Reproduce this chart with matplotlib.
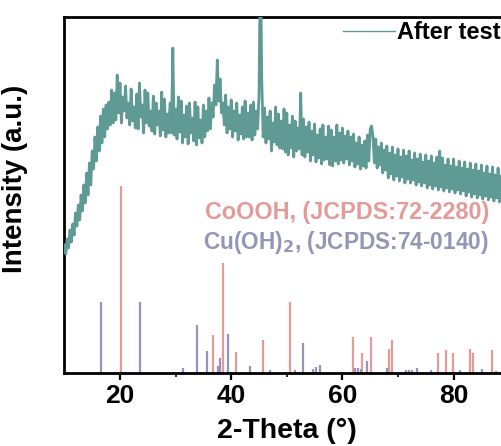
import numpy as np
import matplotlib
matplotlib.use("Agg")
import matplotlib.pyplot as plt

# ---------------- data ----------------
theta_start, theta_step = 10.0, 0.25
intensity = [
    128, 119, 134, 125,   # 10
    143, 131, 149, 138,   # 11
    160, 147, 168, 153,   # 12
    178, 162, 188, 170,   # 13
    200, 178, 210, 188,   # 14
    222, 204, 236, 212,   # 15
    246, 222, 257, 230,   # 16
    264, 236, 268, 244,   # 17
    271, 248, 283, 250,   # 18
    280, 253, 298, 260,   # 19
    290, 250, 276, 262,   # 20
    287, 255, 270, 248,   # 21
    284, 252, 266, 245,   # 22
    279, 244, 290, 256,   # 23
    268, 240, 283, 250,   # 24
    280, 247, 262, 242,   # 25
    277, 239, 270, 248,   # 26
    262, 237, 281, 243,   # 27
    274, 236, 259, 240,   # 28
    270, 240, 325, 238,   # 29
    264, 234, 276, 241,   # 30
    272, 230, 258, 236,   # 31
    267, 229, 270, 240,   # 32
    255, 232, 271, 228,   # 33
    266, 235, 253, 230,   # 34
    268, 236, 262, 242,   # 35
    275, 244, 270, 256,   # 36
    288, 268, 313, 272,   # 37
    294, 260, 270, 248,   # 38
    278, 240, 266, 244,   # 39
    273, 236, 262, 242,   # 40
    270, 233, 258, 239,   # 41
    266, 234, 272, 236,   # 42
    260, 236, 268, 233,   # 43
    271, 238, 262, 244,   # 44
    277, 420, 292, 236,   # 45
    265, 230, 256, 234,   # 46
    262, 222, 250, 231,   # 47
    266, 228, 259, 225,   # 48
    252, 224, 264, 221,   # 49
    260, 218, 248, 225,   # 50
    257, 216, 252, 222,   # 51
    245, 224, 280, 218,   # 52
    254, 216, 246, 221,   # 53
    251, 212, 242, 218,   # 54
    249, 211, 238, 215,   # 55
    244, 209, 248, 213,   # 56
    236, 214, 247, 208,   # 57
    243, 207, 236, 212,   # 58
    248, 209, 240, 213,   # 59
    245, 210, 237, 214,   # 60
    242, 208, 236, 212,   # 61
    239, 206, 230, 209,   # 62
    236, 204, 228, 207,   # 63
    232, 205, 238, 212,   # 64
    244, 247, 236, 210,   # 65
    234, 205, 226, 208,   # 66
    230, 200, 223, 203,   # 67
    227, 195, 220, 199,   # 68
    226, 193, 218, 197,   # 69
    224, 192, 216, 196,   # 70
    223, 190, 217, 194,   # 71
    222, 190, 213, 193,   # 72
    220, 188, 214, 191,   # 73
    219, 187, 211, 190,   # 74
    218, 185, 212, 188,   # 75
    217, 184, 210, 187,   # 76
    216, 183, 222, 186,   # 77
    215, 182, 208, 185,   # 78
    214, 181, 207, 184,   # 79
    214, 180, 206, 183,   # 80
    212, 179, 205, 182,   # 81
    211, 177, 204, 181,   # 82
    210, 176, 203, 179,   # 83
    209, 175, 202, 178,   # 84
    208, 174, 200, 177,   # 85
    207, 173, 199, 176,   # 86
    206, 172, 198, 175,   # 87
    205, 171, 197, 174,   # 88
    204, 170, 196, 173,   # 89
    200,                  # 90
]
two_theta = np.arange(len(intensity)) * theta_step + theta_start

cooh_pos = [20.1, 36.8, 38.6, 40.9, 45.8, 50.5, 61.9, 63.6, 65.1, 68.3,
            69.0, 77.2, 78.6, 79.9, 82.9, 83.4, 86.9]
cooh_int = [187, 38, 110, 21, 33, 71, 36, 20, 36, 24,
            33, 20, 23, 20, 24, 20, 23]

cuoh_pos = [16.6, 23.6, 31.3, 33.9, 35.7, 37.7, 38.0, 39.5, 43.3, 46.9,
            51.5, 53.0, 54.8, 55.2, 56.0, 62.3, 62.8, 63.4, 64.4, 68.0,
            71.4, 72.0, 72.6, 73.4, 76.0, 81.2, 85.1, 87.6]
cuoh_int = [71, 71, 5, 48, 22, 7, 15, 39, 7, 3,
            3, 30, 4, 6, 8, 5, 5, 4, 12, 5,
            3, 3, 3, 5, 3, 3, 4, 2]

x_ticks = [20, 40, 60, 80]
x_minor = [30, 50, 70]
x_range = (10, 90)
y_range = (0, 356)

# ---------------- style ----------------
plt.rcParams['font.family'] = ['Liberation Sans', 'DejaVu Sans']
plt.rcParams['font.weight'] = 'bold'
line_color = '#5f9a95'
red = '#e59a9a'
purple = '#9595b8'

fig = plt.figure(figsize=(5.02, 4.46), dpi=100)
ax = fig.add_axes([64.4 / 502, 1 - 373 / 446, (509.2 - 64.4) / 502, (373 - 17) / 446])

ax.plot(two_theta, intensity, color=line_color, lw=2.0, label='After test', zorder=3)
ax.vlines(cooh_pos, 0, cooh_int, colors=red, lw=1.6, zorder=2)
ax.vlines(cuoh_pos, 0, cuoh_int, colors=purple, lw=1.6, zorder=2)

ax.set_xlim(*x_range)
ax.set_ylim(*y_range)
ax.set_xticks(x_ticks)
ax.set_xticks(x_minor, minor=True)
ax.set_yticks([])
ax.tick_params(axis='x', which='major', direction='out', length=5, width=1.6,
               labelsize=19, pad=3)
ax.tick_params(axis='x', which='minor', direction='out', length=3, width=1.2)
for lab in ax.get_xticklabels():
    lab.set_fontweight('bold')
for sp in ax.spines.values():
    sp.set_linewidth(2.0)

ax.set_xlabel('2-Theta (°)', fontsize=20.5, fontweight='bold', labelpad=7)
ax.set_ylabel('Intensity (a.u.)', fontsize=20, fontweight='bold')
ax.yaxis.set_label_coords(-0.082, 0.545)

fig.text(205 / 502, 1 - 212 / 446, 'CoOOH, (JCPDS:72-2280)', color=red,
         fontsize=16.8, fontweight='bold', va='center', ha='left')
fig.text(203 / 502, 1 - 243 / 446, r'Cu(OH)$_\mathbf{2}$, (JCPDS:74-0140)', color=purple,
         fontsize=16.3, fontweight='bold', va='center', ha='left')

leg = ax.legend(loc='upper left', bbox_to_anchor=(343 / 502, 1 - 21 / 446),
                bbox_transform=fig.transFigure, frameon=False, borderpad=0,
                borderaxespad=0, handlelength=2.2, handletextpad=0.1,
                prop={'size': 17, 'weight': 'bold'})
for l in leg.get_lines():
    l.set_linewidth(1.0)

fig.savefig('out.png', dpi=100)
